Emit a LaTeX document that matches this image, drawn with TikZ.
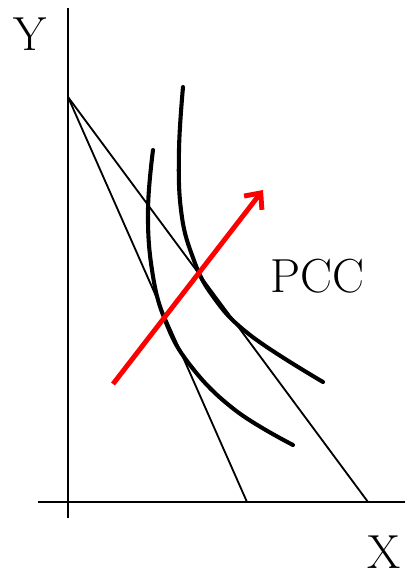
\documentclass[tikz,border=0pt]{standalone}
\usepackage{tikz}
\usetikzlibrary{arrows.meta}

\begin{document}
\begin{tikzpicture}[x=0.025cm, y=-0.025cm]

% Stili
\tikzset{
  asse/.style={black, line width=1.9pt},
  vincolo/.style={black, line width=1.3pt},
  indiff/.style={black, line width=2.9pt, line cap=round},
  etich/.style={font=\fontsize{34}{40}\selectfont, inner sep=0pt},
}

\useasboundingbox (0,0) rectangle (407,578);

% Assi
\coordinate (yTop) at (68,8);
\coordinate (yBot) at (68,518);
\coordinate (xSx) at (38,502);
\coordinate (xDx) at (405,502);
\draw[asse] (yBot) -- (yTop);
\draw[asse] (xSx) -- (xDx);

\node[etich] (lblY) at (30,34) {Y};
\node[etich] (lblX) at (384,552) {X};

% Vincoli di bilancio
\coordinate (o) at (68,97);
\coordinate (a) at (247,502);
\coordinate (b) at (368,502);
\draw[vincolo] (o) -- (a);
\draw[vincolo] (o) -- (b);

% Curve di indifferenza
\draw[indiff] plot[smooth, tension=0.7] coordinates
  {(153,150) (148,210) (152,270) (165,320) (190,365) (235,410) (293,445)};
\draw[indiff] plot[smooth, tension=0.7] coordinates
  {(183,87) (179,150) (181,210) (192,255) (212,295) (250,335) (323,382)};

% Freccia PCC
\coordinate (pIni) at (113,384);
\coordinate (pFin) at (263,190);
\draw[red, line width=3.5pt, -{Straight Barb[length=9pt, width=16pt]}] (pIni) -- (pFin);

\node[etich] (lblPCC) at (317,276) {PCC};

\end{tikzpicture}
\end{document}
